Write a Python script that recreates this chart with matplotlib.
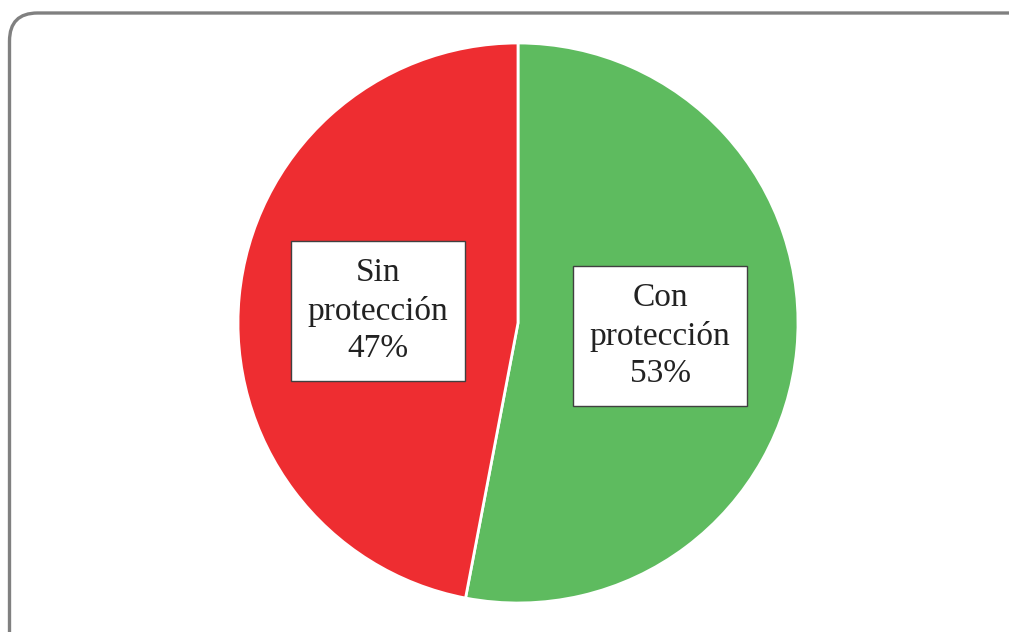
import matplotlib.pyplot as plt
from matplotlib.patches import FancyBboxPatch

# Data
labels = ['Con\nprotección', 'Sin\nprotección']
values = [53, 47]
colors = ['#5EBB5F', '#EE2D31']

W, H = 1009, 632
fig = plt.figure(figsize=(W / 100, H / 100), dpi=100)
ax = fig.add_axes([0, 0, 1, 1])
ax.set_xlim(0, W)
ax.set_ylim(0, H)
ax.set_aspect('equal')
ax.axis('off')

# rounded outer frame (runs off the right/bottom edge like the source)
frame = FancyBboxPatch((9.5, -40), W + 30, H - 13 + 40,
                       boxstyle='round,pad=0,rounding_size=28',
                       facecolor='white', edgecolor='#808080', linewidth=2.4,
                       zorder=0)
ax.add_patch(frame)

cx, cy, r = 518, H - 323, 280
wedges, _ = ax.pie(values, colors=colors, startangle=90, counterclock=False,
                   center=(cx, cy), radius=r,
                   wedgeprops=dict(edgecolor='white', linewidth=2))
ax.set_xlim(0, W)
ax.set_ylim(0, H)

label_pos = [(660, H - 336), (378, H - 311)]
for lab, v, (x, y) in zip(labels, values, label_pos):
    ax.text(x, y, '{}\n{}%'.format(lab, v), ha='center', va='center',
            fontsize=24, family='Liberation Serif', color='#222222',
            linespacing=1.3,
            bbox=dict(boxstyle='square,pad=0.5', facecolor='white',
                      edgecolor='#404040', linewidth=1))

fig.savefig('out.png', dpi=100)
